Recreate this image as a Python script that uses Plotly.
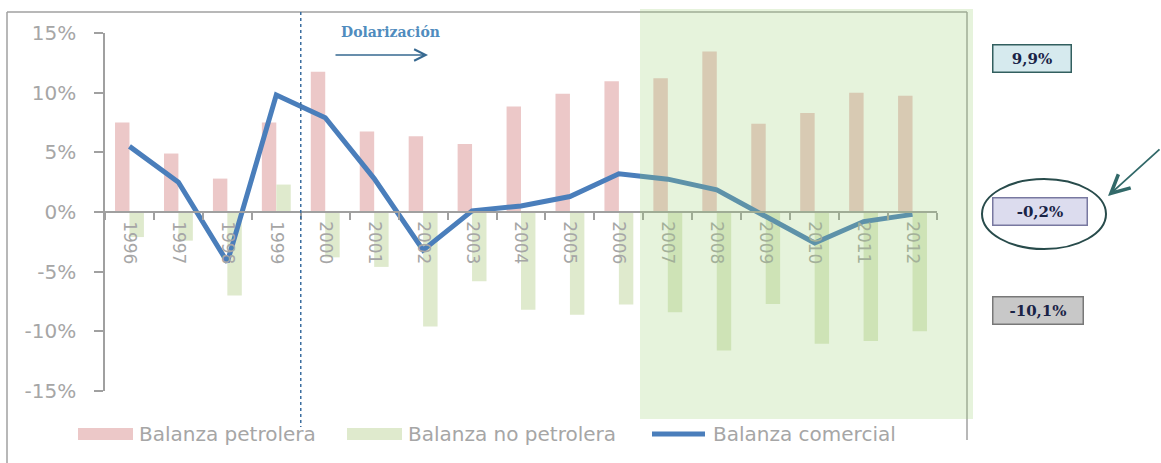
import plotly.graph_objects as go

# ---------------- data ----------------
years = ["1996", "1997", "1998", "1999", "2000", "2001", "2002", "2003", "2004",
         "2005", "2006", "2007", "2008", "2009", "2010", "2011", "2012"]
petrolera = [7.5, 4.9, 2.8, 7.5, 11.75, 6.75, 6.35, 5.7, 8.85, 9.9, 10.95,
             11.2, 13.45, 7.4, 8.3, 10.0, 9.75]
no_petrolera = [-2.1, -2.4, -7.0, 2.3, -3.8, -4.6, -9.6, -5.8, -8.2, -8.6, -7.75,
                -8.4, -11.6, -7.7, -11.05, -10.8, -10.0]
comercial = [5.5, 2.5, -4.2, 9.8, 7.9, 2.8, -3.2, 0.1, 0.5, 1.3, 3.2,
             2.75, 1.85, -0.35, -2.6, -0.8, -0.2]
series_names = ["Balanza petrolera", "Balanza no petrolera", "Balanza comercial"]
y_tickvals = [-15, -10, -5, 0, 5, 10, 15]
y_ticktext = ["-15%", "-10%", "-5%", "0%", "5%", "10%", "15%"]
box_labels = ["9,9%", "-0,2%", "-10,1%"]
dolarizacion_label = "Dolarización"

# ---------------- layout helpers (pixels -> paper) ----------------
W, H = 1161, 463
L, R, T, B = 105, 937, 33, 391


def px(x):
    return (x - L) / (R - L)


def py(y):
    return (B - y) / (B - T)


PINK = "rgb(236,200,200)"
GREEN = "rgb(223,234,205)"
BLUE = "rgb(74,126,187)"
GRAY = "#a6a6a6"
AXIS = "#a0a0a0"

fig = go.Figure()
fig.add_trace(go.Bar(x=years, y=petrolera, name=series_names[0],
                     marker=dict(color=PINK, line=dict(width=0)), showlegend=False))
fig.add_trace(go.Bar(x=years, y=no_petrolera, name=series_names[1],
                     marker=dict(color=GREEN, line=dict(width=0)), showlegend=False))
fig.add_trace(go.Scatter(x=years, y=comercial, name=series_names[2], mode="lines",
                         line=dict(color=BLUE, width=5), showlegend=False))

shapes = []
# outer chart frame
shapes.append(dict(type="line", xref="paper", yref="paper", x0=px(7), x1=px(967),
                   y0=py(12), y1=py(12), line=dict(color=AXIS, width=1.5)))
shapes.append(dict(type="line", xref="paper", yref="paper", x0=px(7), x1=px(7),
                   y0=py(12), y1=py(463), line=dict(color=AXIS, width=1.5)))
shapes.append(dict(type="line", xref="paper", yref="paper", x0=px(967), x1=px(967),
                   y0=py(12), y1=py(440), line=dict(color=AXIS, width=1.5)))
# dollarization dotted line between 1999 and 2000
shapes.append(dict(type="line", xref="x", yref="paper", x0=3.5, x1=3.5,
                   y0=py(12), y1=py(427),
                   line=dict(color="rgb(60,110,160)", width=1.5, dash="dot")))
# shaded period
shapes.append(dict(type="rect", xref="paper", yref="paper", x0=px(640), x1=px(973),
                   y0=py(9), y1=py(419), fillcolor="rgba(155,207,115,0.25)",
                   line=dict(width=0), layer="above"))
# ellipse around -0,2%
shapes.append(dict(type="circle", xref="paper", yref="paper", x0=px(982), x1=px(1106),
                   y0=py(179), y1=py(249), line=dict(color="rgb(40,75,75)", width=2)))
# manual legend swatches
shapes.append(dict(type="rect", xref="paper", yref="paper", x0=px(78), x1=px(133),
                   y0=py(428), y1=py(440), fillcolor=PINK, line=dict(width=0)))
shapes.append(dict(type="rect", xref="paper", yref="paper", x0=px(347), x1=px(402),
                   y0=py(428), y1=py(440), fillcolor=GREEN, line=dict(width=0)))
shapes.append(dict(type="line", xref="paper", yref="paper", x0=px(652), x1=px(705),
                   y0=py(434), y1=py(434), line=dict(color=BLUE, width=5)))

legend_font = dict(family="DejaVu Sans", size=20, color=GRAY)
annotations = []
for xpix, name in zip([137, 406, 711], series_names):
    annotations.append(dict(xref="paper", yref="paper", x=px(xpix), y=py(434),
                            text=name, showarrow=False, xanchor="left",
                            yanchor="middle", font=legend_font))

# Dolarización label + arrow
annotations.append(dict(xref="paper", yref="paper", x=px(390), y=py(32),
                        text="<b>" + dolarizacion_label + "</b>", showarrow=False,
                        xanchor="center", yanchor="middle",
                        font=dict(family="DejaVu Serif", size=14,
                                  color="rgb(80,140,190)")))
annotations.append(dict(xref="paper", yref="paper", x=px(428), y=py(55),
                        ax=-94, ay=0, text="", showarrow=True, arrowhead=5,
                        arrowsize=1.6, arrowwidth=1.4,
                        arrowcolor="rgb(55,105,145)"))

# value boxes on the right
box_specs = [
    (1032, 59, 73, "rgb(214,234,238)", "rgb(50,95,95)"),
    (1040, 211, 89, "rgb(220,220,238)", "rgb(120,120,160)"),
    (1038, 310, 85, "rgb(200,200,200)", "rgb(120,120,120)"),
]
for label, (cx, cy, bw, bg, bc) in zip(box_labels, box_specs):
    annotations.append(dict(xref="paper", yref="paper", x=px(cx), y=py(cy),
                            text="<b>" + label + "</b>", showarrow=False,
                            xanchor="center", yanchor="middle",
                            width=bw, height=22, bgcolor=bg, bordercolor=bc,
                            borderwidth=1.5, borderpad=2,
                            font=dict(family="DejaVu Serif", size=15,
                                      color="rgb(25,35,70)")))

# pointer arrow to the ellipse
annotations.append(dict(xref="paper", yref="paper", x=px(1108), y=py(196),
                        ax=54, ay=-48, text="", showarrow=True, arrowhead=5,
                        arrowsize=2, arrowwidth=1.8,
                        arrowcolor="rgb(50,105,105)"))

fig.update_layout(
    width=W, height=H,
    margin=dict(l=L, r=W - R, t=T, b=H - B, pad=0),
    paper_bgcolor="white", plot_bgcolor="white",
    barmode="group", bargap=0.41, bargroupgap=0,
    showlegend=False,
    shapes=shapes, annotations=annotations,
    xaxis=dict(
        type="category", anchor="free", position=0.5,
        showline=True, linecolor=AXIS, linewidth=1.5,
        ticks="outside", ticklen=7, tickcolor=AXIS, tickwidth=1.5,
        tickson="boundaries", tickangle=90, ticklabelstandoff=5,
        tickfont=dict(family="DejaVu Sans", size=17, color=GRAY),
        showgrid=False, zeroline=False,
    ),
    yaxis=dict(
        range=[-15, 15], tickvals=y_tickvals, ticktext=y_ticktext,
        showline=True, linecolor=AXIS, linewidth=1.5,
        ticks="outside", ticklen=9, tickcolor=AXIS, tickwidth=1.5,
        ticklabelstandoff=14,
        tickfont=dict(family="DejaVu Sans", size=20, color=GRAY),
        showgrid=False, zeroline=False,
    ),
)

fig.write_html("out.html",
               config={"displayModeBar": False},
               post_script="document.body.style.margin='0px';"
                           "document.body.style.overflow='hidden';")
